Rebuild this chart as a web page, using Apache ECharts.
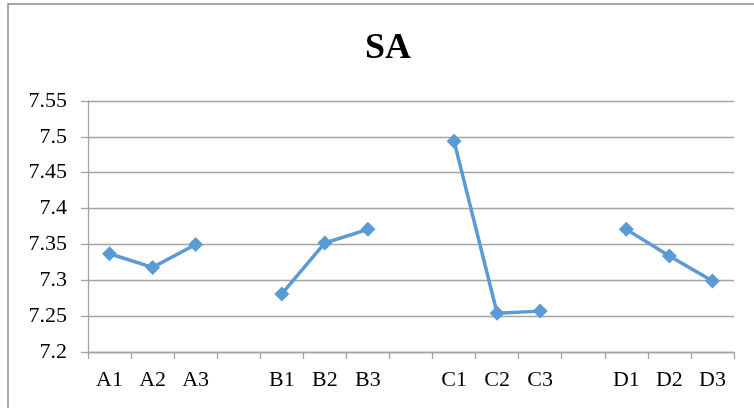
<!DOCTYPE html>
<html>
<head>
<meta charset="utf-8">
<script src="https://cdn.jsdelivr.net/npm/echarts@6/dist/echarts.min.js"></script>
<style>
  html, body { margin: 0; padding: 0; background: #fff; }
  #chart { width: 754px; height: 408px; }
</style>
</head>
<body>
<div id="chart"></div>
<script>
// Factor levels and mean SA response for each level
const levelsA = ['A1', 'A2', 'A3'];
const levelsB = ['B1', 'B2', 'B3'];
const levelsC = ['C1', 'C2', 'C3'];
const levelsD = ['D1', 'D2', 'D3'];

const valuesA = [7.337, 7.318, 7.350];
const valuesB = [7.281, 7.352, 7.371];
const valuesC = [7.494, 7.254, 7.257];
const valuesD = [7.371, 7.334, 7.299];

const yTicks = { min: 7.2, max: 7.55, step: 0.05 };

// Lay the groups out on one category axis with an empty slot between them
const groups = [
  [levelsA, valuesA],
  [levelsB, valuesB],
  [levelsC, valuesC],
  [levelsD, valuesD]
];
const categories = [];
const seriesData = [];
groups.forEach(([levels, values], gi) => {
  if (gi > 0) {
    categories.push(' '.repeat(gi));
    seriesData.push(null);
  }
  levels.forEach((lv, i) => {
    categories.push(lv);
    seriesData.push(values[i]);
  });
});

const FONT = '"Liberation Serif", "Times New Roman", serif';
const GRID_COLOR = '#a3a3a3';

const chart = echarts.init(document.getElementById('chart'), null, { renderer: 'canvas' });
chart.setOption({
  backgroundColor: '#ffffff',
  animation: false,
  title: {
    text: 'SA',
    left: 383,
    top: 26,
    textAlign: 'center',
    textStyle: { fontFamily: FONT, fontWeight: 'bold', fontSize: 36, color: '#000' }
  },
  graphic: [{
    type: 'rect',
    shape: { x: 8, y: 4, width: 760, height: 420 },
    style: { fill: 'none', stroke: '#8a8a8a', lineWidth: 1.5 },
    silent: true,
    z: -1
  }],
  grid: { left: 88, right: 20, top: 101, bottom: 56 },
  xAxis: {
    type: 'category',
    data: categories,
    boundaryGap: true,
    axisLine: { lineStyle: { color: GRID_COLOR, width: 1.3 } },
    axisTick: { show: true, length: 7, interval: 0, lineStyle: { color: GRID_COLOR, width: 1.3 } },
    axisLabel: { interval: 0, margin: 17, fontFamily: FONT, fontSize: 22, color: '#000' },
    splitLine: { show: false }
  },
  yAxis: {
    type: 'value',
    min: yTicks.min,
    max: yTicks.max,
    interval: yTicks.step,
    axisLine: { show: true, lineStyle: { color: GRID_COLOR, width: 1.3 } },
    axisTick: { show: true, length: 7, lineStyle: { color: GRID_COLOR, width: 1.3 } },
    axisLabel: { margin: 21, fontFamily: FONT, fontSize: 22, color: '#000' },
    splitLine: { show: true, lineStyle: { color: GRID_COLOR, width: 1.3 } }
  },
  series: [{
    type: 'line',
    data: seriesData,
    connectNulls: false,
    symbol: 'diamond',
    symbolSize: 15,
    lineStyle: { color: '#5b9bd5', width: 3.5 },
    itemStyle: { color: '#5b9bd5' }
  }]
});
</script>
</body>
</html>
